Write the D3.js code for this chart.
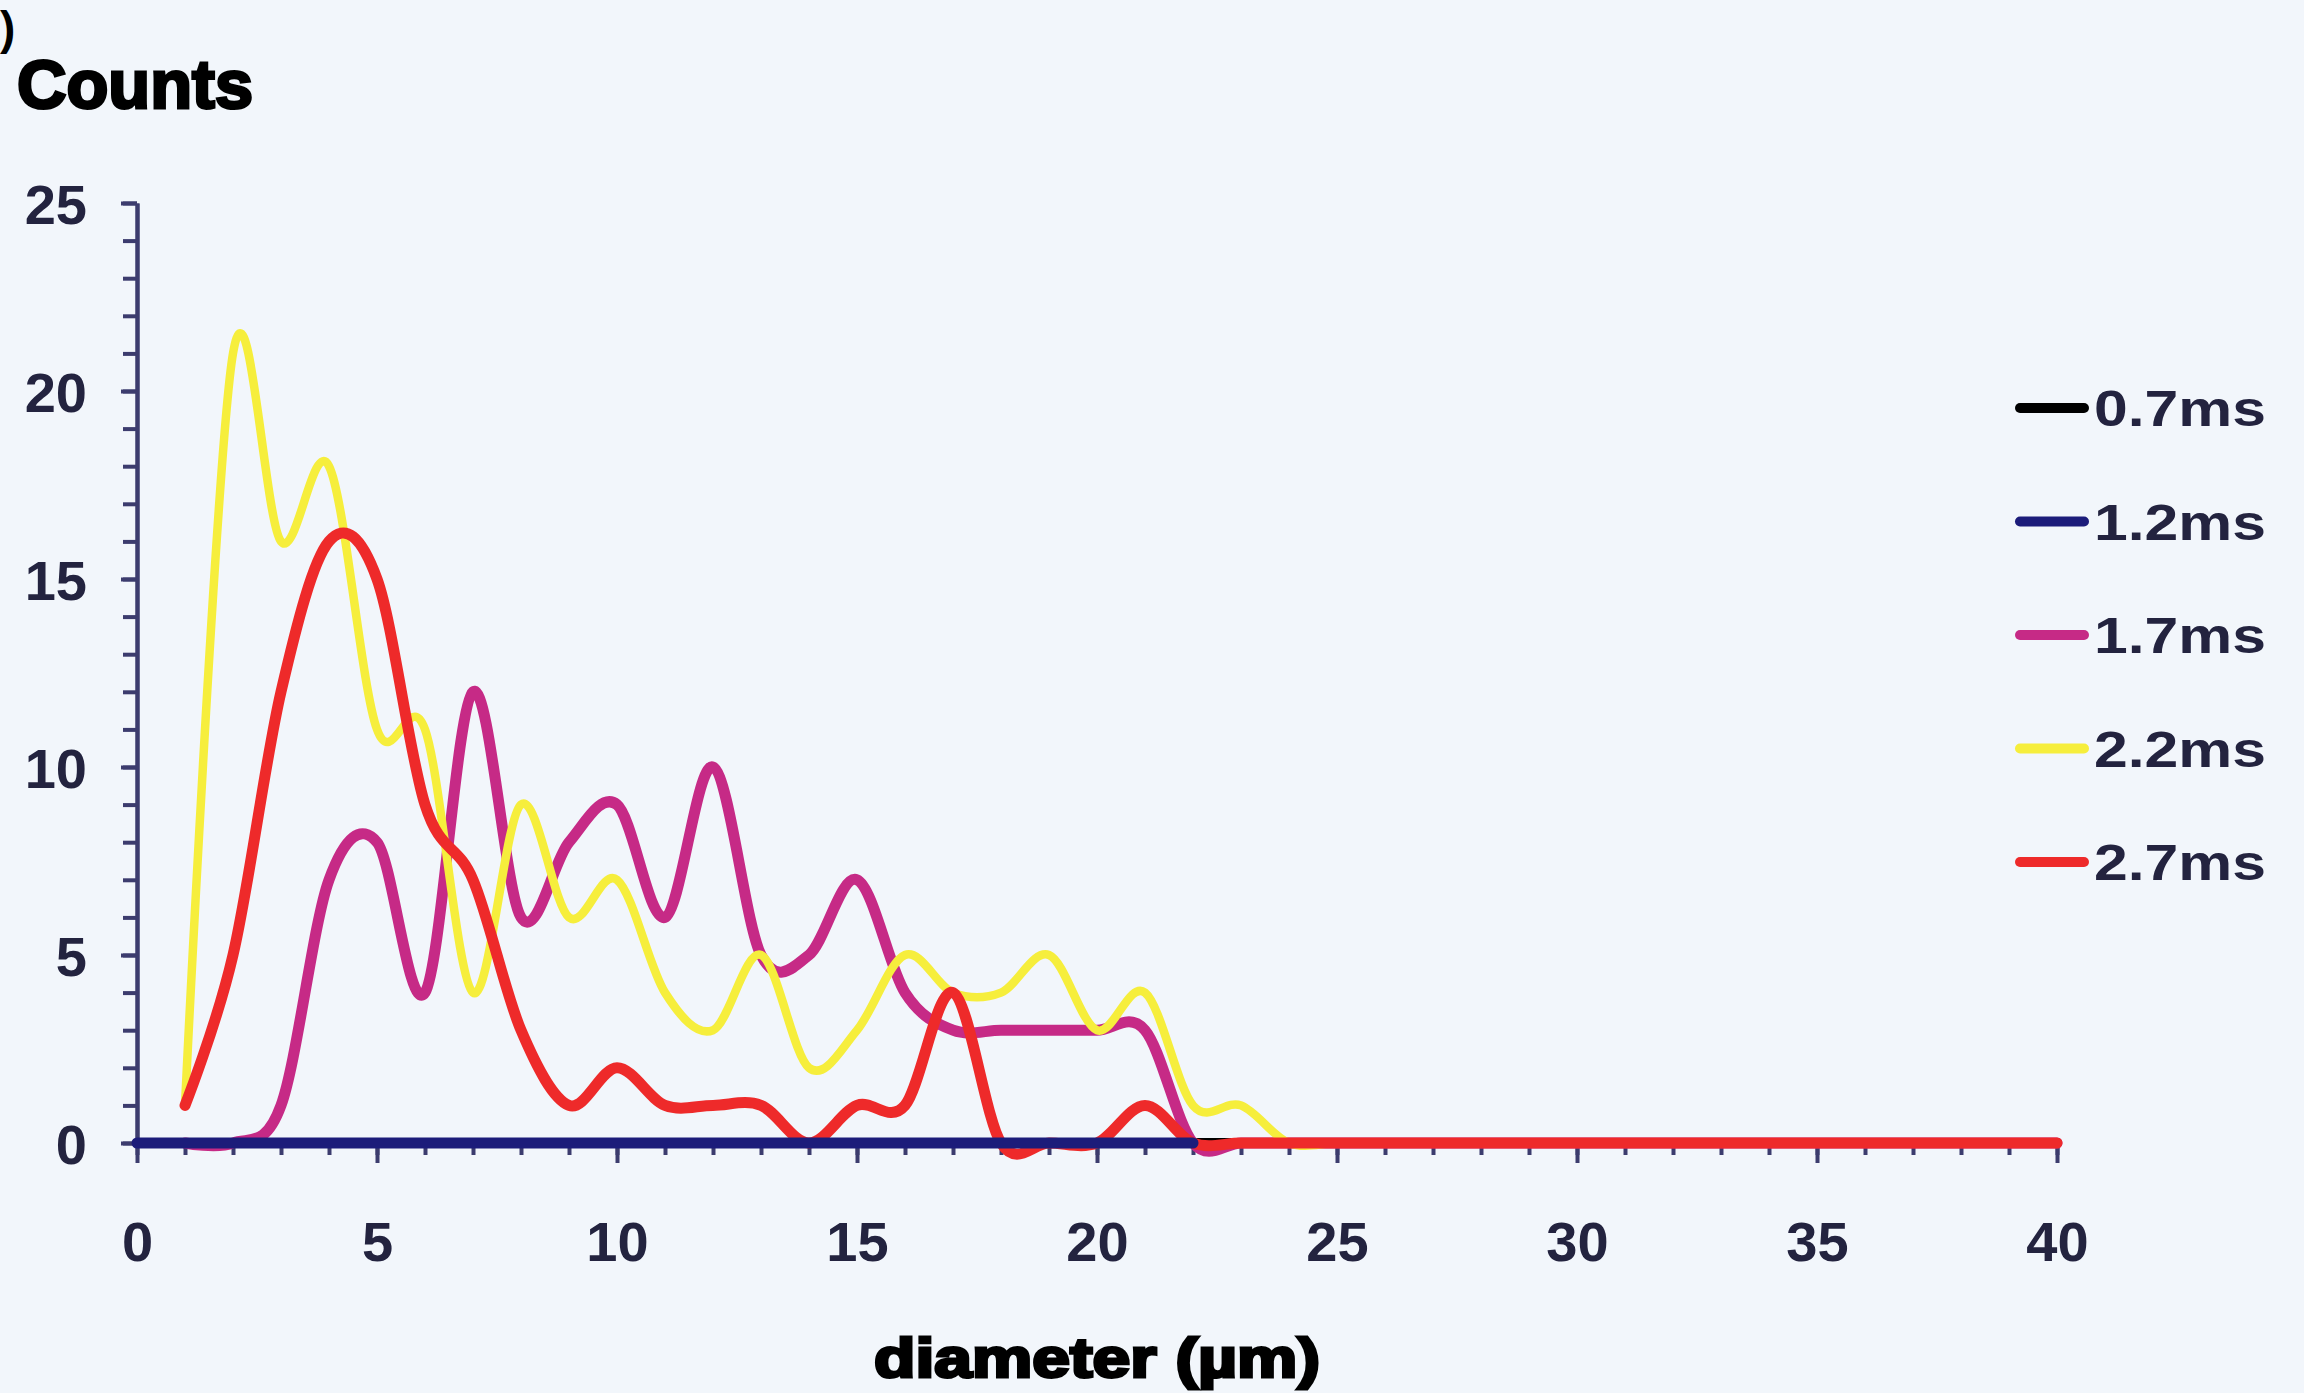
<!DOCTYPE html>
<html>
<head>
<meta charset="utf-8">
<script src="https://cdn.jsdelivr.net/npm/d3@7"></script>
<style>
  html, body { margin: 0; padding: 0; background: #f2f6fb; }
  svg { display: block; }
  text { font-family: "Liberation Sans", Arial, sans-serif; }
</style>
</head>
<body>
<svg id="chart" width="2304" height="1393"></svg>
<script>
// Particle size distributions at five delay times (counts per 1 µm diameter bin)
const diameters = d3.range(0, 41);            // µm, 0 … 40
const seriesNames = ["0.7ms", "1.2ms", "1.7ms", "2.2ms", "2.7ms"];
const seriesColors = ["#000000", "#1c1c7a", "#c62a86", "#f6ee3c", "#ee2a2a"];

const zeros = n => Array(n).fill(0);
// null = no measurement in that bin
const counts07 = [null].concat(zeros(40));
const counts12 = zeros(23).concat(Array(18).fill(null));
const counts17 = [null, 0, 0, 1, 7, 8, 4, 12, 6, 8, 9, 6, 10, 5, 5, 7, 4, 3, 3, 3, 3, 3, 0].concat(zeros(18));
const counts22 = [null, 1, 21, 16, 18, 11, 11, 4, 9, 6, 7, 4, 3, 5, 2, 3, 5, 4, 4, 5, 3, 4, 1, 1, 0].concat(zeros(16));
const counts27 = [null, 1, 5, 12, 16, 15, 9, 7, 3, 1, 2, 1, 1, 1, 0, 1, 1, 4, 0, 0, 0, 1, 0].concat(zeros(18));

const xTicks = d3.range(0, 41, 5);
const yTicks = d3.range(0, 26, 5);

const svg = d3.select("#chart");
svg.append("rect").attr("width", 2304).attr("height", 1393).attr("fill", "#f2f6fb");

const x = d3.scaleLinear().domain([0, 40]).range([137, 2057]);
const y = d3.scaleLinear().domain([0, 25]).range([1143, 203]);

const axisColor = "#3c3c6e";
const labelColor = "#23233f";

// ---- y axis ----
const yMinor = svg.append("g").attr("transform", `translate(${x(0)},0)`)
  .call(d3.axisLeft(y).tickValues(d3.range(0, 26)).tickFormat("").tickSize(14).tickSizeOuter(0));
const yMajor = svg.append("g").attr("transform", `translate(${x(0)},0)`)
  .call(d3.axisLeft(y).tickValues(yTicks).tickSize(16).tickPadding(34).tickSizeOuter(0));
[yMinor, yMajor].forEach(g => {
  g.select(".domain").attr("stroke", axisColor).attr("stroke-width", 4);
  g.selectAll(".tick line").attr("stroke", axisColor).attr("stroke-width", 4);
});
yMajor.selectAll(".tick text")
  .attr("fill", labelColor).attr("font-size", 56).attr("font-weight", "bold")
  .attr("dy", "0.36em");

// ---- x axis ----
const xMinor = svg.append("g").attr("transform", `translate(0,${y(0)})`)
  .call(d3.axisBottom(x).tickValues(diameters).tickFormat("").tickSize(12).tickSizeOuter(0));
const xMajor = svg.append("g").attr("transform", `translate(0,${y(0)})`)
  .call(d3.axisBottom(x).tickValues(xTicks).tickSize(20).tickPadding(58).tickSizeOuter(0));
[xMinor, xMajor].forEach(g => {
  g.select(".domain").attr("stroke", axisColor).attr("stroke-width", 4);
  g.selectAll(".tick line").attr("stroke", axisColor).attr("stroke-width", 4);
});
xMajor.selectAll(".tick text")
  .attr("fill", labelColor).attr("font-size", 56).attr("font-weight", "bold");

// ---- series ----
const line = d3.line()
  .defined(d => d.v != null)
  .x(d => x(d.d))
  .y(d => y(d.v))
  .curve(d3.curveCardinal.tension(0));

const toPts = arr => diameters.map((d, i) => ({ d, v: arr[i] }));
const series = [
  { name: seriesNames[0], color: seriesColors[0], values: counts07, width: 10 },
  { name: seriesNames[2], color: seriesColors[2], values: counts17, width: 11 },
  { name: seriesNames[3], color: seriesColors[3], values: counts22, width: 8.5 },
  { name: seriesNames[4], color: seriesColors[4], values: counts27, width: 11 },
  { name: seriesNames[1], color: seriesColors[1], values: counts12, width: 11 }
];
svg.append("g").selectAll("path").data(series).join("path")
  .attr("d", s => line(toPts(s.values)))
  .attr("fill", "none")
  .attr("stroke", s => s.color)
  .attr("stroke-width", s => s.width)
  .attr("stroke-linejoin", "round")
  .attr("stroke-linecap", "round");

// ---- titles ----
svg.append("text").attr("x", 0).attr("y", 44)
  .attr("font-size", 46).attr("font-weight", "bold").attr("fill", "#000").text(")");
svg.append("text").attr("x", 17).attr("y", 108)
  .attr("font-size", 68).attr("font-weight", "bold").attr("fill", "#000")
  .attr("stroke", "#000").attr("stroke-width", 3)
  .attr("textLength", 236).attr("lengthAdjust", "spacingAndGlyphs")
  .text("Counts");
svg.append("text").attr("x", 1097).attr("y", 1377)
  .attr("text-anchor", "middle")
  .attr("font-size", 55).attr("font-weight", "bold").attr("fill", "#000")
  .attr("stroke", "#000").attr("stroke-width", 3)
  .attr("textLength", 446).attr("lengthAdjust", "spacingAndGlyphs")
  .text("diameter (µm)");

// ---- legend ----
const legend = svg.append("g").selectAll("g")
  .data(seriesNames.map((n, i) => ({ name: n, color: seriesColors[i] })))
  .join("g")
  .attr("transform", (d, i) => `translate(2016,${408 + i * 113.5})`);
legend.append("line")
  .attr("x1", 4).attr("x2", 68).attr("y1", 0).attr("y2", 0)
  .attr("stroke", d => d.color).attr("stroke-width", 10).attr("stroke-linecap", "round");
legend.append("text")
  .attr("x", 78).attr("dy", "0.36em")
  .attr("font-size", 50).attr("font-weight", "bold").attr("fill", labelColor)
  .attr("textLength", 172).attr("lengthAdjust", "spacingAndGlyphs")
  .text(d => d.name);
</script>
</body>
</html>
